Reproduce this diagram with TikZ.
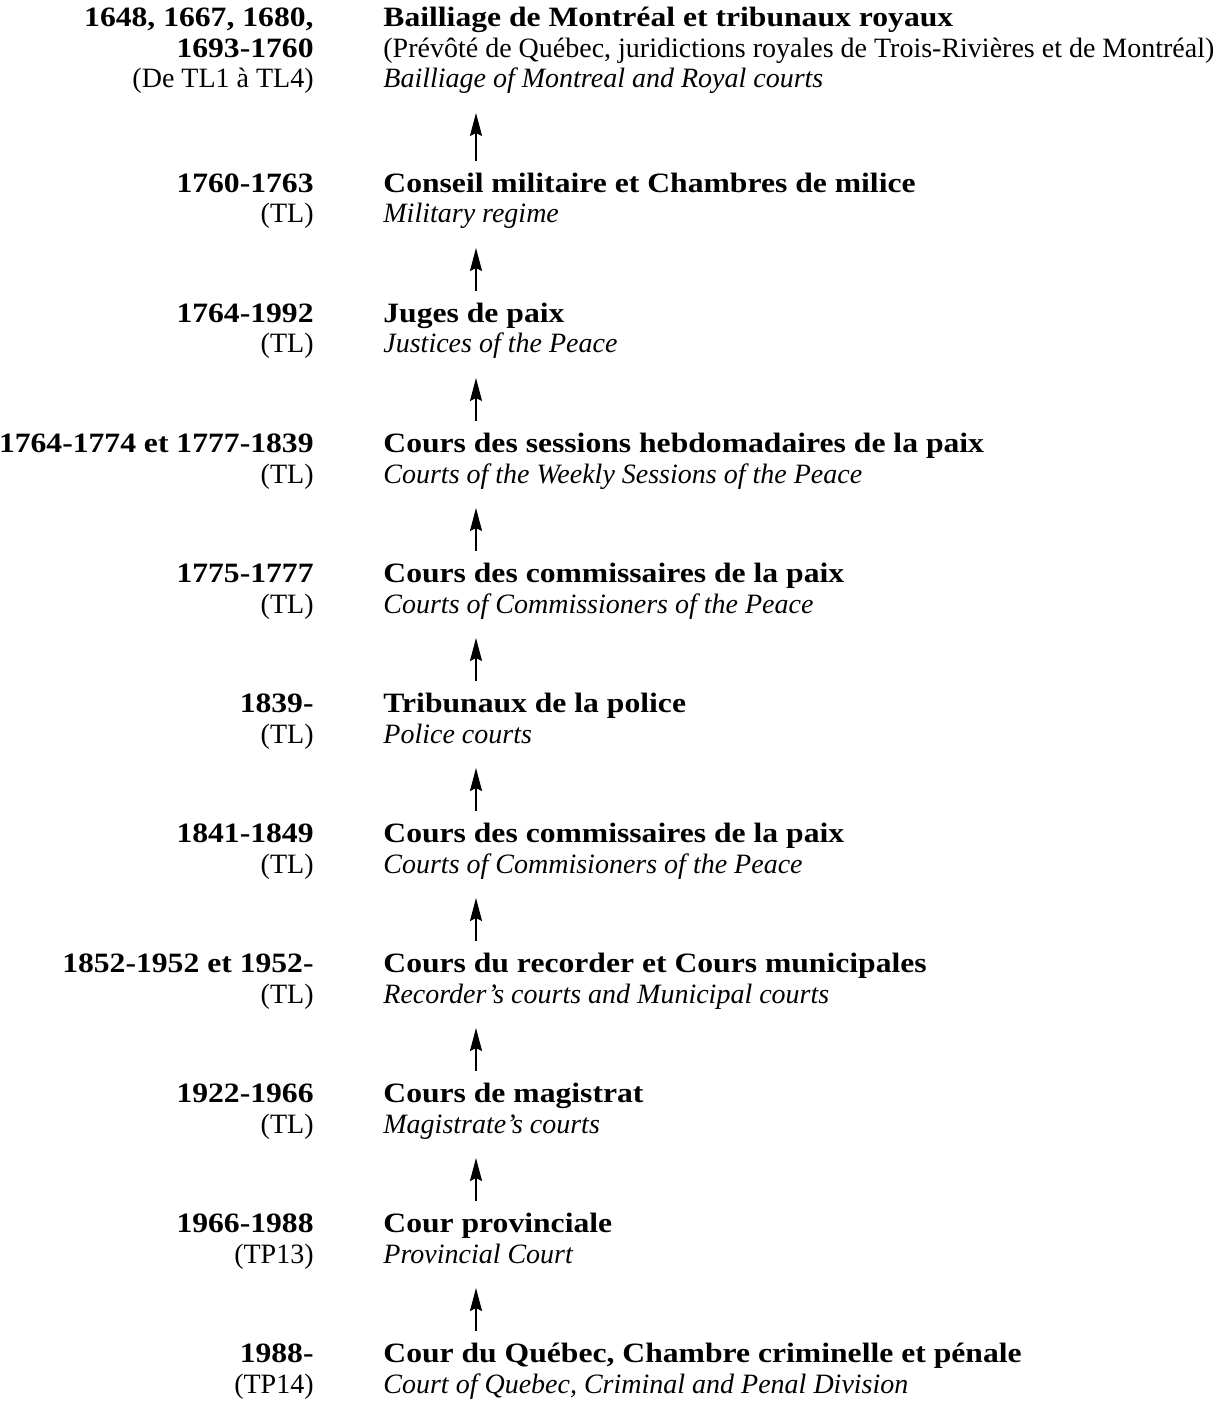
\documentclass[tikz,border=0pt]{standalone}
\usepackage{fontspec}
\setmainfont{Liberation Serif}[BoldFeatures={FakeStretch=1.13}]
\usetikzlibrary{positioning,arrows.meta}

\begin{document}
\begin{tikzpicture}[x=0.5pt,y=-0.5pt,
    court/.style={anchor=base west, align=left, inner sep=0pt,
      font=\fontsize{14}{15.25}\selectfont},
    period/.style={anchor=base east, align=right, inner sep=0pt,
      font=\fontsize{14}{15.25}\selectfont},
    up/.style={-{Stealth[length=11.5pt,width=6pt,inset=1.5pt]}, line width=1pt,
      shorten <=31pt, shorten >=12.5pt}]
    \useasboundingbox (0,0) rectangle (1223,1406);
    \coordinate (ax) at (476,0);

    % Courts (right column), placed by the baseline of their last line
    \node[court] (bailliage) at (383,88) {\textbf{Bailliage de Montréal et tribunaux royaux}\\
      (Prévôté de Québec, juridictions royales de Trois-Rivières et de Montréal)\\
      \textit{Bailliage of Montreal and Royal courts}};
    \node[court] (militaire) at (383,223) {\textbf{Conseil militaire et Chambres de milice}\\
      \textit{Military regime}};
    \node[court] (juges) at (383,353) {\textbf{Juges de paix}\\
      \textit{Justices of the Peace}};
    \node[court] (hebdo) at (383,483) {\textbf{Cours des sessions hebdomadaires de la paix}\\
      \textit{Courts of the Weekly Sessions of the Peace}};
    \node[court] (commissA) at (383,613) {\textbf{Cours des commissaires de la paix}\\
      \textit{Courts of Commissioners of the Peace}};
    \node[court] (police) at (383,743) {\textbf{Tribunaux de la police}\\
      \textit{Police courts}};
    \node[court] (commissB) at (383,873) {\textbf{Cours des commissaires de la paix}\\
      \textit{Courts of Commisioners of the Peace}};
    \node[court] (recorder) at (383,1003) {\textbf{Cours du recorder et Cours municipales}\\
      \textit{Recorder’s courts and Municipal courts}};
    \node[court] (magistrat) at (383,1133) {\textbf{Cours de magistrat}\\
      \textit{Magistrate’s courts}};
    \node[court] (provinciale) at (383,1263) {\textbf{Cour provinciale}\\
      \textit{Provincial Court}};
    \node[court] (quebec) at (383,1393) {\textbf{Cour du Québec, Chambre criminelle et pénale}\\
      \textit{Court of Quebec, Criminal and Penal Division}};

    % Periods (left column)
    \node[period] (bailliage-d) at (314,88) {\textbf{1648, 1667, 1680,}\\
      \textbf{1693-1760}\\ (De TL1 à TL4)};
    \node[period] (militaire-d) at (314,223) {\textbf{1760-1763}\\ (TL)};
    \node[period] (juges-d) at (314,353) {\textbf{1764-1992}\\ (TL)};
    \node[period] (hebdo-d) at (314,483) {\textbf{1764-1774 et 1777-1839}\\ (TL)};
    \node[period] (commissA-d) at (314,613) {\textbf{1775-1777}\\ (TL)};
    \node[period] (police-d) at (314,743) {\textbf{1839-}\\ (TL)};
    \node[period] (commissB-d) at (314,873) {\textbf{1841-1849}\\ (TL)};
    \node[period] (recorder-d) at (314,1003) {\textbf{1852-1952 et 1952-}\\ (TL)};
    \node[period] (magistrat-d) at (314,1133) {\textbf{1922-1966}\\ (TL)};
    \node[period] (provinciale-d) at (314,1263) {\textbf{1966-1988}\\ (TP13)};
    \node[period] (quebec-d) at (314,1393) {\textbf{1988-}\\ (TP14)};

    % Succession arrows
    \draw[up] (militaire.base -| ax) -- (bailliage.base -| ax);
    \draw[up] (juges.base -| ax) -- (militaire.base -| ax);
    \draw[up] (hebdo.base -| ax) -- (juges.base -| ax);
    \draw[up] (commissA.base -| ax) -- (hebdo.base -| ax);
    \draw[up] (police.base -| ax) -- (commissA.base -| ax);
    \draw[up] (commissB.base -| ax) -- (police.base -| ax);
    \draw[up] (recorder.base -| ax) -- (commissB.base -| ax);
    \draw[up] (magistrat.base -| ax) -- (recorder.base -| ax);
    \draw[up] (provinciale.base -| ax) -- (magistrat.base -| ax);
    \draw[up] (quebec.base -| ax) -- (provinciale.base -| ax);
\end{tikzpicture}
\end{document}
